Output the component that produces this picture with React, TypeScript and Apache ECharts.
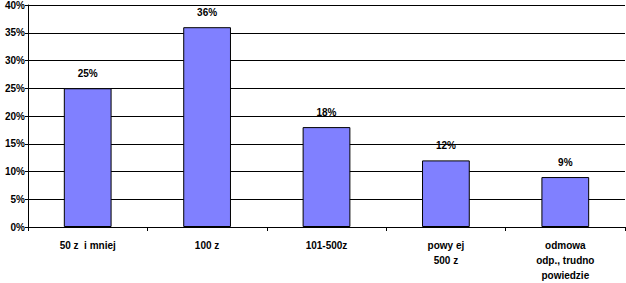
import React, { useEffect, useRef } from "react";
import * as echarts from "echarts";

const categories = ["50 z  i mniej", "100 z", "101-500z", "powy ej\n500 z", "odmowa\nodp., trudno\npowiedzie"];
const values = [25, 36, 18, 12, 9];
const yTicks = [0, 5, 10, 15, 20, 25, 30, 35, 40];

export default function App() {
  const ref = useRef<HTMLDivElement>(null);
  useEffect(() => {
    if (!ref.current) return;
    const chart = echarts.init(ref.current, null, { renderer: "svg" });
    const font = "'Liberation Sans', Arial, sans-serif";
    chart.setOption({
      animation: false,
      grid: { left: 28, right: 1, top: 5, bottom: 56, containLabel: false },
      xAxis: {
        type: "category",
        data: categories,
        axisLine: { lineStyle: { color: "#000", width: 1 } },
        axisTick: { show: true, length: 4, lineStyle: { color: "#000" } },
        axisLabel: {
          color: "#000",
          fontFamily: font,
          fontWeight: "bold",
          fontSize: 10,
          lineHeight: 15,
          margin: 11,
          interval: 0,
        },
      },
      yAxis: {
        type: "value",
        min: yTicks[0],
        max: yTicks[yTicks.length - 1],
        interval: 5,
        axisLine: { show: true, lineStyle: { color: "#000", width: 1 } },
        axisTick: { show: true, length: 3, lineStyle: { color: "#000" } },
        splitLine: { show: true, lineStyle: { color: "#000", width: 1 } },
        axisLabel: {
          color: "#000",
          fontFamily: font,
          fontWeight: "bold",
          fontSize: 10,
          margin: 3,
          formatter: (v: number) => v + "%",
        },
      },
      series: [
        {
          type: "bar",
          data: values,
          barCategoryGap: "60%",
          itemStyle: { color: "#8080FF", borderColor: "#000", borderWidth: 1 },
          label: {
            show: true,
            position: "top",
            distance: 10,
            color: "#000",
            fontFamily: font,
            fontWeight: "bold",
            fontSize: 10,
            formatter: (p: any) => p.value + "%",
          },
        },
      ],
    });
    return () => chart.dispose();
  }, []);
  return <div ref={ref} style={{ width: 626, height: 283, position: "absolute", left: 0, top: 0, background: "#fff" }} />;
}
